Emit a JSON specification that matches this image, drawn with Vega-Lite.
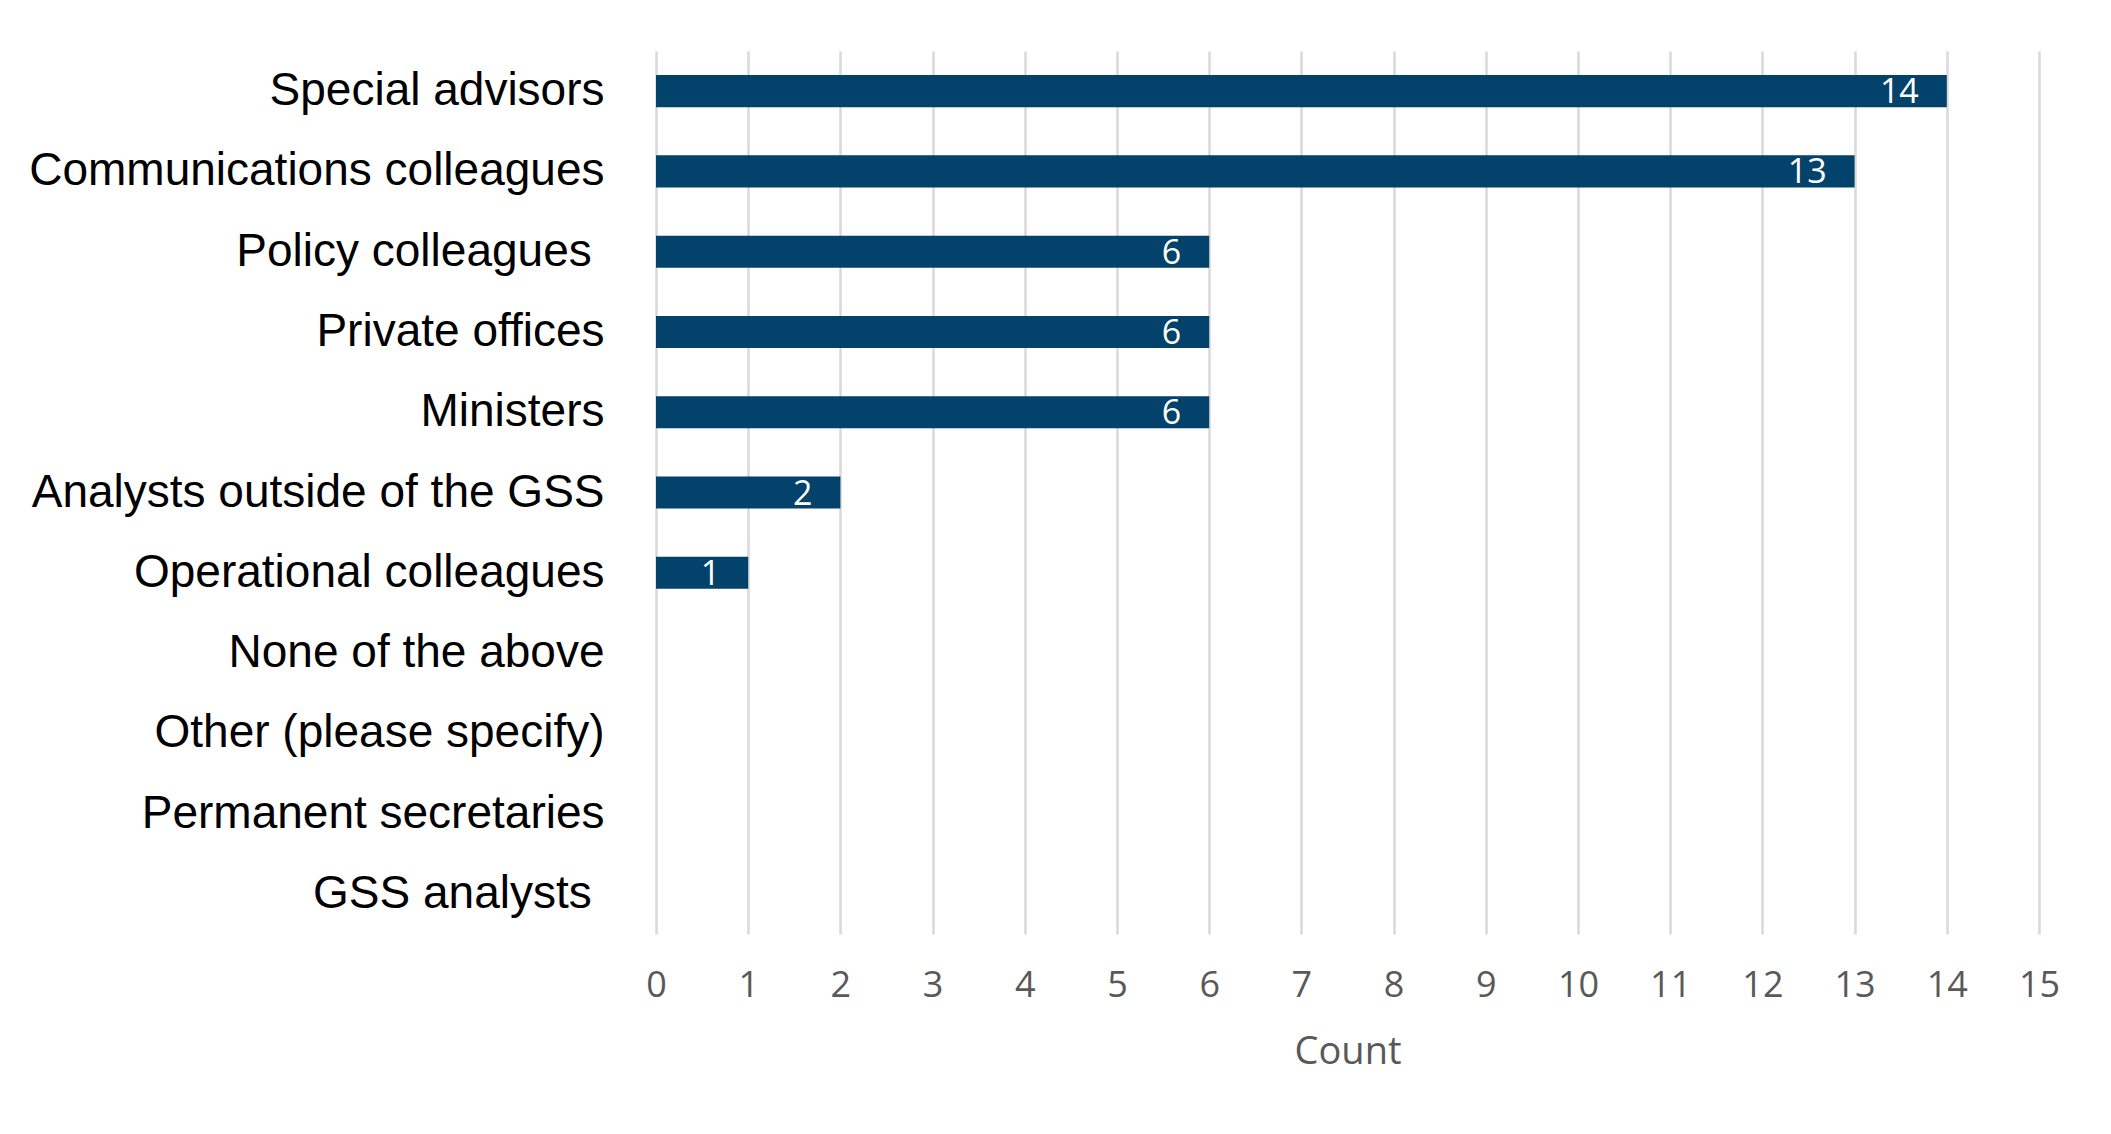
{
  "$schema": "https://vega.github.io/schema/vega-lite/v6.json",
  "autosize": {"type": "none"},
  "padding": {"left": 656, "top": 51, "right": 72, "bottom": 200},
  "width": 1383,
  "height": 883,
  "background": "white",
  "config": {"view": {"stroke": null}},
  "data": {
    "values": [
      {"group": "Special advisors", "count": 14},
      {"group": "Communications colleagues", "count": 13},
      {"group": "Policy colleagues\u00a0\u200b", "count": 6},
      {"group": "Private offices", "count": 6},
      {"group": "Ministers", "count": 6},
      {"group": "Analysts outside of the GSS", "count": 2},
      {"group": "Operational colleagues", "count": 1},
      {"group": "None of the above", "count": 0},
      {"group": "Other (please specify)", "count": 0},
      {"group": "Permanent secretaries", "count": 0},
      {"group": "GSS analysts\u00a0\u200b", "count": 0}
    ]
  },
  "encoding": {
    "y": {
      "field": "group",
      "type": "nominal",
      "sort": null,
      "scale": {"paddingInner": 0.6, "paddingOuter": 0.3},
      "axis": {
        "title": null,
        "domain": false,
        "ticks": false,
        "tickSize": 0,
        "labelPadding": 52,
        "labelFont": "Liberation Sans",
        "labelFontSize": 46,
        "labelColor": "#000000",
        "labelLimit": 1000
      }
    },
    "x": {
      "field": "count",
      "type": "quantitative",
      "scale": {"domain": [0, 15], "nice": false},
      "axis": {
        "title": "Count",
        "values": [0,1,2,3,4,5,6,7,8,9,10,11,12,13,14,15],
        "domain": false,
        "ticks": false,
        "tickSize": 0,
        "grid": true,
        "gridColor": "#D9D9D9",
        "gridWidth": 2.5,
        "labelFlush": false,
        "labelOverlap": false,
        "labelPadding": 34,
        "labelFont": "Open Sans",
        "labelFontSize": 36,
        "labelColor": "#595959",
        "titleFont": "Open Sans",
        "titleFontSize": 38,
        "titleFontWeight": "normal",
        "titleColor": "#595959",
        "titlePadding": 30
      }
    }
  },
  "layer": [
    {
      "mark": {"type": "bar", "color": "#03426A"}
    },
    {
      "transform": [{"filter": "datum.count > 0"}],
      "mark": {
        "type": "text",
        "align": "right",
        "baseline": "middle",
        "dx": -28,
        "dy": 2,
        "font": "Open Sans",
        "fontSize": 34,
        "color": "#FFFFFF"
      },
      "encoding": {"text": {"field": "count", "type": "quantitative"}}
    }
  ]
}
